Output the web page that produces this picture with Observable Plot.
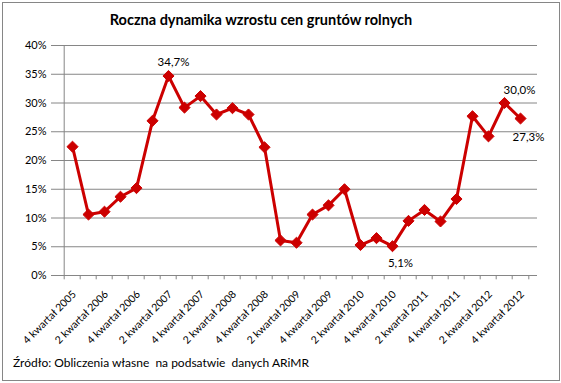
<!DOCTYPE html>
<html><head><meta charset="utf-8">
<script src="https://cdn.jsdelivr.net/npm/d3@7"></script>
<script src="https://cdn.jsdelivr.net/npm/@observablehq/plot@0.6"></script>
<style>
body{margin:0;background:#fff}
#wrap{position:relative;width:561px;height:383px;font-family:Lato,"Open Sans",sans-serif;color:#000;overflow:hidden}
#border{position:absolute;left:2px;top:2px;width:558px;height:379px;border:1px solid #868686;box-sizing:border-box}
#title{position:absolute;left:0;top:11px;width:522px;text-align:center;font-weight:bold;font-size:14.5px}
#chart{position:absolute;left:0;top:0}
#caption{position:absolute;left:13px;top:355px;font-size:12px;white-space:pre}
</style></head>
<body>
<div id="wrap">
  <div id="border"></div>
  <div id="chart"></div>
  <div id="title">Roczna dynamika wzrostu cen gruntów rolnych</div>
  <div id="caption">Źródło: Obliczenia własne  na podsatwie  danych ARiMR</div>
</div>
<script>
const quarters = [
  "4 kwartał 2005",
  "1 kwartał 2006","2 kwartał 2006","3 kwartał 2006","4 kwartał 2006",
  "1 kwartał 2007","2 kwartał 2007","3 kwartał 2007","4 kwartał 2007",
  "1 kwartał 2008","2 kwartał 2008","3 kwartał 2008","4 kwartał 2008",
  "1 kwartał 2009","2 kwartał 2009","3 kwartał 2009","4 kwartał 2009",
  "1 kwartał 2010","2 kwartał 2010","3 kwartał 2010","4 kwartał 2010",
  "1 kwartał 2011","2 kwartał 2011","3 kwartał 2011","4 kwartał 2011",
  "1 kwartał 2012","2 kwartał 2012","3 kwartał 2012","4 kwartał 2012"
];
const growth = [
  0.224,
  0.106, 0.111, 0.137, 0.152,
  0.269, 0.347, 0.292, 0.312,
  0.280, 0.291, 0.280, 0.223,
  0.061, 0.057, 0.106, 0.122,
  0.150, 0.053, 0.065, 0.051,
  0.095, 0.114, 0.094, 0.133,
  0.277, 0.242, 0.300, 0.273
];
const tickLabels = [
  "4 kwartał 2005","2 kwartał 2006","4 kwartał 2006","2 kwartał 2007",
  "4 kwartał 2007","2 kwartał 2008","4 kwartał 2008","2 kwartał 2009",
  "4 kwartał 2009","2 kwartał 2010","4 kwartał 2010","2 kwartał 2011",
  "4 kwartał 2011","2 kwartał 2012","4 kwartał 2012"
];
const yTicks = [0, 0.05, 0.10, 0.15, 0.20, 0.25, 0.30, 0.35, 0.40];
const annQuarters = ["2 kwartał 2007","3 kwartał 2012","4 kwartał 2012","4 kwartał 2010"];
const annTexts = ["34,7%","30,0%","27,3%","5,1%"];
const annDx = [5, 15, 8, 8];
const annDy = [-14, -13, 19, 17];

const data = quarters.map((q, i) => ({q, v: growth[i]}));
const ann = annQuarters.map((q, i) => ({q, v: growth[quarters.indexOf(q)], t: annTexts[i]}));

const W = 561, H = 383, mL = 55, mR = 24, mT = 45, mB = 108;
const step = (W - mL - mR) / quarters.length;
const grey = "#868686";
const red = "#cc0000";

const chart = Plot.plot({
  width: W, height: H,
  marginLeft: mL, marginRight: mR, marginTop: mT, marginBottom: mB,
  style: {fontFamily: "Lato, 'Open Sans', sans-serif", background: "transparent", color: "#000"},
  x: {type: "point", domain: quarters, padding: 0.5, axis: null},
  y: {domain: [0, 0.4], axis: null},
  marks: [
    Plot.ruleY(yTicks, {stroke: grey, strokeWidth: 1}),
    Plot.ruleX([quarters[0]], {dx: -step / 2, y1: 0, y2: 0.4, stroke: grey}),
    Plot.ruleX(quarters, {dx: -step / 2, y1: 0, y2: -0.0075, stroke: grey}),
    Plot.ruleX([quarters[quarters.length - 1]], {dx: step / 2, y1: 0, y2: -0.0075, stroke: grey}),
    Plot.axisY({ticks: yTicks, tickFormat: d3.format(".0%"), tickSize: 4, tickPadding: 5, stroke: grey, fontSize: 11, color: "#000", label: null}),
    Plot.text(tickLabels, {x: d => d, y: 0, text: d => d, rotate: -45, textAnchor: "end", dx: 2, dy: 17, fontSize: 10.5, fill: "#000"}),
    Plot.line(data, {x: "q", y: "v", stroke: red, strokeWidth: 3}),
    Plot.dot(data, {x: "q", y: "v", symbol: "diamond2", r: 5, fill: red, stroke: red, strokeWidth: 1}),
    ...ann.map((a, i) => Plot.text([a], {x: "q", y: "v", text: "t", dx: annDx[i], dy: annDy[i], fontSize: 11.5, fill: "#000"}))
  ]
});
document.getElementById("chart").appendChild(chart);
</script>
</body></html>
